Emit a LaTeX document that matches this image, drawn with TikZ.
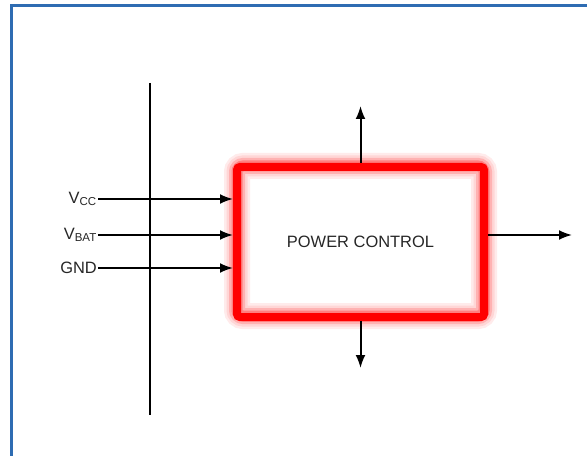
\documentclass[tikz,border=0pt]{standalone}
\usepackage{fontspec}
\setmainfont{Liberation Sans}
\usetikzlibrary{arrows.meta}
\definecolor{frameblue}{RGB}{46,108,178}
\definecolor{boxred}{RGB}{255,0,0}
\tikzset{
  sig/.style={line width=2bp,-{Latex[length=13bp,width=10bp]}},
  lbl/.style={anchor=east,inner sep=1bp,font=\fontsize{16.5}{18}\selectfont,text=black!85},
  glow/.style={draw=boxred!#1,rounded corners=6bp,minimum width=247bp,minimum height=150bp}
}
\begin{document}
\begin{tikzpicture}[x=1bp,y=-1bp]
\useasboundingbox (0,0) rectangle (587,456);
% frame
\draw[frameblue,line width=3bp] (11,456) -- (11,6) -- (587,6);
% bus
\draw[line width=2.5bp] (150,83) -- (150,415);
% power control block with glow
\node[glow=8,line width=26bp] at (360.5,241) {};
\node[glow=16,line width=21bp] at (360.5,241) {};
\node[glow=30,line width=16bp] at (360.5,241) {};
\node[glow=50,line width=11bp] at (360.5,241) {};
\node (pwr) [draw=boxred,line width=8bp,rounded corners=3bp,minimum width=247bp,minimum height=150bp,
  font=\fontsize{16.5}{18}\selectfont,text=black!85] at (360.5,242) {POWER CONTROL};
% inputs
\node[lbl] (vcc) at (98,199) {V\textsubscript{CC}};
\node[lbl] (vbat) at (98,235) {V\textsubscript{BAT}};
\node[lbl] (gnd) at (98,268) {GND};
\draw[sig] (vcc.east) -- (vcc.east -| pwr.west);
\draw[sig] (vbat.east) -- (vbat.east -| pwr.west);
\draw[sig] (gnd.east) -- (gnd.east -| pwr.west);
% outputs
\coordinate (up) at (360.5,106);
\coordinate (down) at (360.5,368);
\coordinate (out) at (572,235);
\draw[sig] (pwr.north) -- (up);
\draw[sig] (pwr.south) -- (down);
\draw[sig] (out -| pwr.east) -- (out);
\end{tikzpicture}
\end{document}
